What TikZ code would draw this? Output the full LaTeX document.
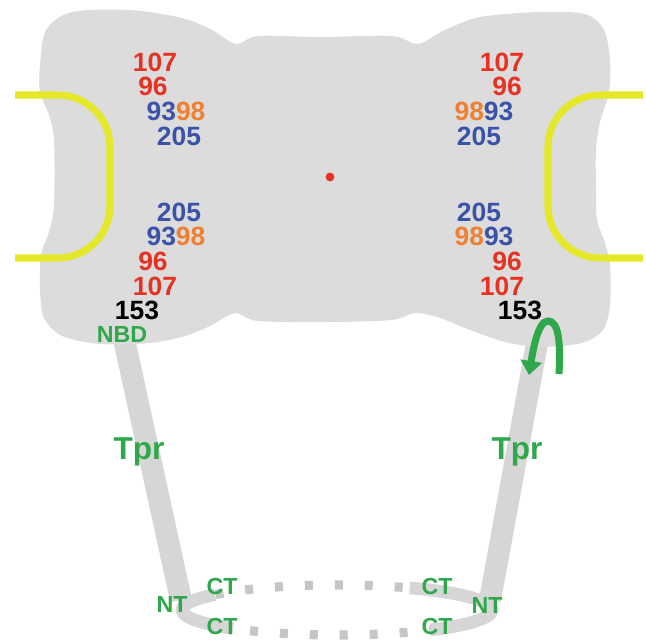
\documentclass[tikz,border=0pt]{standalone}
\usepackage{fontspec}
\setmainfont{Liberation Sans}
\usetikzlibrary{arrows.meta, positioning}

\definecolor{bodygray}{RGB}{220,220,220}
\definecolor{stalkgray}{RGB}{214,214,214}
\definecolor{ringgray}{RGB}{198,198,198}
\definecolor{pocketyellow}{RGB}{228,232,40}
\definecolor{resred}{RGB}{230,50,35}
\definecolor{resblue}{RGB}{58,82,168}
\definecolor{resorange}{RGB}{240,128,48}
\definecolor{domgreen}{RGB}{46,168,74}

\tikzset{
    resnum/.style={text=#1, inner sep=0pt, font=\fontsize{18.8}{20}\selectfont\bfseries},
    domlabel/.style={text=domgreen, inner sep=0pt, font=\fontsize{#1}{#1}\selectfont\bfseries},
    stalk/.style={stalkgray, line width=15.6pt},
    ringband/.style={stalkgray, line width=9pt},
    ringdash/.style={ringgray, line width=6.5pt, dash pattern=on 5.7pt off 15.6pt},
    pocket/.style={pocketyellow, line width=5pt, rounded corners=1.3cm},
    turnarrow/.style={domgreen, line width=5pt, -{Triangle[width=15pt, length=10pt]}}
}

\begin{document}
\begin{tikzpicture}[x=0.025cm, y=-0.025cm]
\useasboundingbox (0,0) rectangle (646,643);

% Tpr stalks and the ring below
\draw[stalk] (122,330) -- (181,600);
\draw[stalk] (538,338) -- (490,600);
\draw[ringdash] plot[domain=0:360, samples=120, smooth] ({337+155*cos(\x)}, {610+25*sin(\x)});
\draw[ringband] plot[domain=132:218, samples=30, smooth] ({337+155*cos(\x)}, {610+25*sin(\x)});
\draw[ringband] plot[domain=-62:53, samples=40, smooth] ({337+155*cos(\x)}, {610+25*sin(\x)});

% channel body
\fill[bodygray] plot[smooth cycle, tension=0.5] coordinates {
    (40,65) (46,30) (72,12) (130,10) (182,18) (212,30) (236,44) (258,36)
    (320,37) (392,36) (418,44) (445,30) (480,17) (540,12) (585,14) (604,30)
    (610,60) (609,92) (600,122) (596,150) (596,190) (597,220) (605,243) (610,265)
    (610,305) (603,330) (582,343) (540,347) (505,342) (470,330) (440,318) (415,313)
    (392,320) (330,322) (258,321) (235,313) (210,326) (185,336) (150,343) (100,344)
    (62,336) (44,318) (40,290) (41,255) (49,232) (54,205) (54,140) (49,115) (40,92)};

% pockets
\draw[pocket] (15,95) -- (110,95) -- (110,258) -- (15,258);
\draw[pocket] (643,95) -- (548,95) -- (548,258) -- (643,258);

\fill[resred] (330,177) circle[radius=0.11cm];

% left subunit
\node[resnum=resred] (lt107) at (155,62) {107};
\node[resnum=resred, below=0.14cm of lt107, xshift=-0.05cm] (lt96) {96};
\node[resnum=resblue, below=0.14cm of lt96, xshift=0.575cm] (lt9398) {93\textcolor{resorange}{98}};
\node[resnum=resblue, below=0.14cm of lt9398, xshift=0.075cm] (lt205) {205};

\node[resnum=resblue] (lb205) at (179,212) {205};
\node[resnum=resblue, below=0.14cm of lb205, xshift=-0.075cm] (lb9398) {93\textcolor{resorange}{98}};
\node[resnum=resred, below=0.14cm of lb9398, xshift=-0.575cm] (lb96) {96};
\node[resnum=resred, below=0.14cm of lb96, xshift=0.05cm] (lb107) {107};
\node[resnum=black, below=0.1cm of lb107, xshift=-0.45cm] (lb153) {153};
\node[domlabel=16.5, below=0.16cm of lb153, xshift=-0.375cm] (lnbd) {NBD};

% right subunit
\node[resnum=resred] (rt107) at (502,62) {107};
\node[resnum=resred, below=0.14cm of rt107, xshift=0.125cm] (rt96) {96};
\node[resnum=resorange, below=0.14cm of rt96, xshift=-0.575cm] (rt9893) {98\textcolor{resblue}{93}};
\node[resnum=resblue, below=0.14cm of rt9893, xshift=-0.125cm] (rt205) {205};

\node[resnum=resblue] (rb205) at (479,212) {205};
\node[resnum=resorange, below=0.14cm of rb205, xshift=0.125cm] (rb9893) {98\textcolor{resblue}{93}};
\node[resnum=resred, below=0.14cm of rb9893, xshift=0.575cm] (rb96) {96};
\node[resnum=resred, below=0.14cm of rb96, xshift=-0.125cm] (rb107) {107};
\node[resnum=black, below=0.1cm of rb107, xshift=0.45cm] (rb153) {153};

% stalk and ring labels
\node[domlabel=22.5, anchor=base] (ltpr) at (139,459) {Tpr};
\node[domlabel=22.5, anchor=base] (rtpr) at (517,459) {Tpr};
\node[domlabel=16.5] (lnt) at (172,605) {NT};
\node[domlabel=16.5] (lct1) at (222,587) {CT};
\node[domlabel=16.5] (lct2) at (222,627) {CT};
\node[domlabel=16.5] (rnt) at (487,606) {NT};
\node[domlabel=16.5] (rct1) at (437,587) {CT};
\node[domlabel=16.5] (rct2) at (437,627) {CT};

\draw[turnarrow] (559,374) .. controls (561,340) and (558,321) .. (548,321)
    .. controls (538,321) and (533,350) .. (529,375);

\end{tikzpicture}
\end{document}
